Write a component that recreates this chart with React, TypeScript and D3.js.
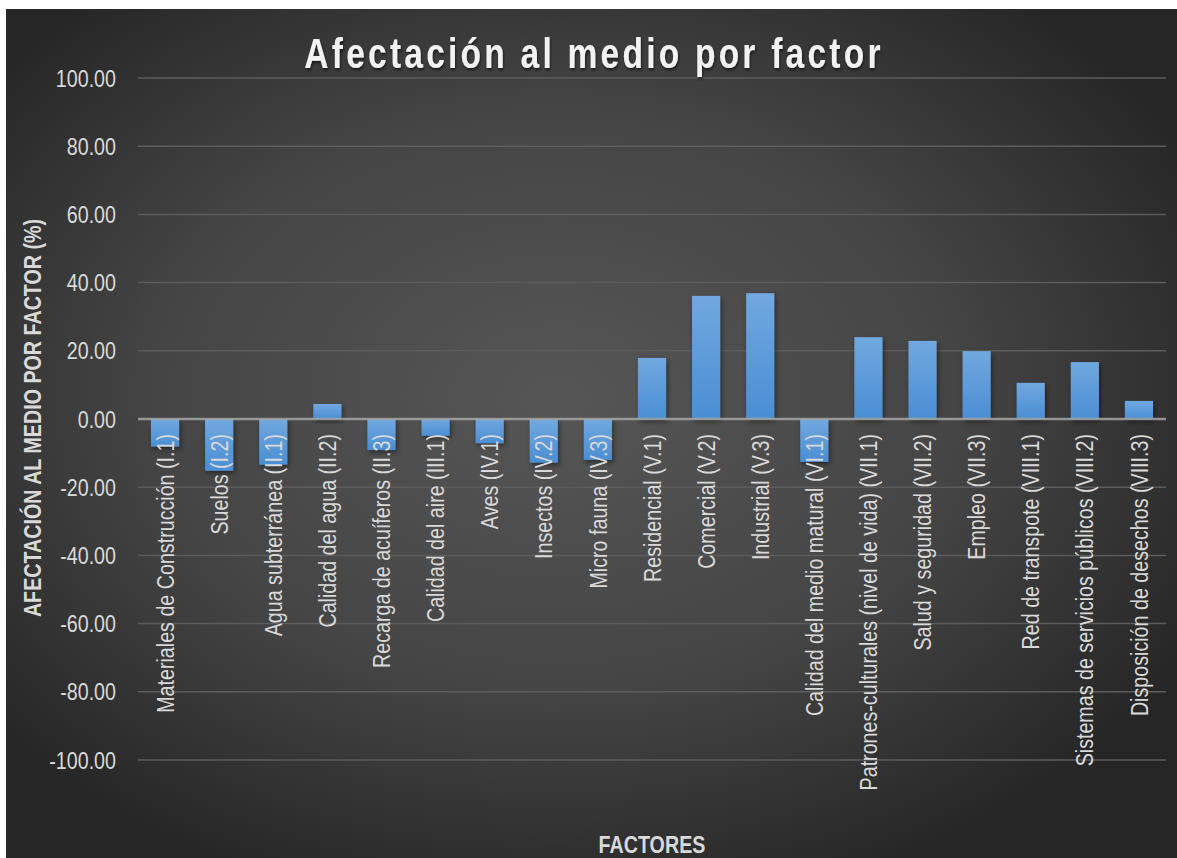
import React from "react";
import * as d3 from "d3";

const categories = [
  "Materiales de Construcción (I.1)",
  "Suelos (I.2)",
  "Agua subterránea (II.1)",
  "Calidad del agua (II.2)",
  "Recarga de acuíferos (II.3)",
  "Calidad del aire (III.1)",
  "Aves (IV.1)",
  "Insectos (IV.2)",
  "Micro fauna (IV.3)",
  "Residencial (V.1)",
  "Comercial (V.2)",
  "Industrial (V.3)",
  "Calidad del medio matural (VI.1)",
  "Patrones-culturales (nivel de vida) (VII.1)",
  "Salud y seguridad (VII.2)",
  "Empleo (VII.3)",
  "Red de transpote (VIII.1)",
  "Sistemas de servicios públicos (VIII.2)",
  "Disposición de desechos (VIII.3)",
];

const values = [
  -8.1, -15.2, -13.4, 4.4, -9.1, -4.9, -7.1, -12.8, -12.0, 17.9, 36.1, 36.9,
  -12.6, 24.0, 22.9, 19.9, 10.6, 16.7, 5.3,
];

const yTicks = [-100, -80, -60, -40, -20, 0, 20, 40, 60, 80, 100];

const title = "Afectación al medio por factor";
const yTitle = "AFECTACIÓN AL MEDIO POR FACTOR (%)";
const xTitle = "FACTORES";

const W = 1177;
const H = 858;
const FONT = "'Liberation Sans', Arial, sans-serif";
const NARROW = 0.82;

export default function App() {
  const x = d3
    .scaleBand<string>()
    .domain(categories)
    .range([138, 1166])
    .paddingInner(0.48)
    .paddingOuter(0.24);
  const y = d3.scaleLinear().domain([-100, 100]).range([760, 78]);
  const fmt = (v: number) => d3.format(".2f")(v).replace("\u2212", "-");
  const y0 = y(0);

  return (
    <div style={{ position: "absolute", left: 0, top: 0 }}>
      <svg width={W} height={H} style={{ display: "block" }}>
        <defs>
          <radialGradient id="bg" cx="47%" cy="46%" r="62%">
            <stop offset="0%" stopColor="#565656" />
            <stop offset="55%" stopColor="#454545" />
            <stop offset="100%" stopColor="#262626" />
          </radialGradient>
          <linearGradient id="barGrad" x1="0" y1="0" x2="0" y2="1">
            <stop offset="0%" stopColor="#71a8df" />
            <stop offset="100%" stopColor="#4a8ed4" />
          </linearGradient>
          <filter id="barShadow" x="-30%" y="-30%" width="160%" height="160%">
            <feDropShadow dx="1.5" dy="2.5" stdDeviation="2.5" floodColor="#000" floodOpacity="0.45" />
          </filter>
          <filter id="titleShadow" x="-5%" y="-30%" width="110%" height="160%">
            <feDropShadow dx="1" dy="2" stdDeviation="1.5" floodColor="#000" floodOpacity="0.6" />
          </filter>
        </defs>
        <rect x={0} y={0} width={W} height={H} fill="#ffffff" />
        <rect x={6} y={9} width={W - 6} height={H - 9} fill="url(#bg)" />

        {/* gridlines */}
        {yTicks
          .filter((t) => t !== 0)
          .map((t) => (
            <line
              key={t}
              x1={138}
              x2={1166}
              y1={y(t)}
              y2={y(t)}
              stroke="#5c5c5c"
              strokeWidth={1.5}
            />
          ))}

        {/* y tick labels */}
        {yTicks.map((t) => (
          <text
            key={t}
            transform={`translate(116,${y(t)}) scale(${NARROW},1)`}
            dy="0.36em"
            textAnchor="end"
            fontFamily={FONT}
            fontSize={24}
            fill="#d9d9d9"
          >
            {fmt(t)}
          </text>
        ))}

        {/* bars */}
        {categories.map((c, i) => {
          const v = values[i];
          const top = v >= 0 ? y(v) : y0;
          const h = Math.abs(y(v) - y0);
          return (
            <rect
              key={c}
              x={x(c)}
              y={top}
              width={x.bandwidth()}
              height={h}
              fill="url(#barGrad)"
              filter="url(#barShadow)"
            />
          );
        })}

        {/* zero line */}
        <line x1={138} x2={1166} y1={y0} y2={y0} stroke="#a6a6a6" strokeOpacity={0.85} strokeWidth={2.5} />

        {/* category labels */}
        {categories.map((c) => {
          const cx = (x(c) as number) + x.bandwidth() / 2;
          return (
            <text
              key={c}
              transform={`translate(${cx},${y0 + 15}) rotate(-90) scale(${NARROW},1)`}
              dy="0.36em"
              textAnchor="end"
              fontFamily={FONT}
              fontSize={24}
              fill="#d9d9d9"
            >
              {c}
            </text>
          );
        })}

        {/* title */}
        <text
          transform={`translate(594,68) scale(0.8,1)`}
          textAnchor="middle"
          fontFamily={FONT}
          fontSize={42}
          fontWeight="bold"
          letterSpacing={4}
          fill="#f2f2f2"
          filter="url(#titleShadow)"
        >
          {title}
        </text>

        {/* y axis title */}
        <text
          transform={`translate(32,418) rotate(-90) scale(${NARROW},1)`}
          dy="0.36em"
          textAnchor="middle"
          fontFamily={FONT}
          fontSize={24}
          fontWeight="bold"
          fill="#d9d9d9"
        >
          {yTitle}
        </text>

        {/* x axis title */}
        <text
          transform={`translate(652,853) scale(${NARROW},1)`}
          textAnchor="middle"
          fontFamily={FONT}
          fontSize={24}
          fontWeight="bold"
          fill="#d9d9d9"
        >
          {xTitle}
        </text>
      </svg>
    </div>
  );
}
